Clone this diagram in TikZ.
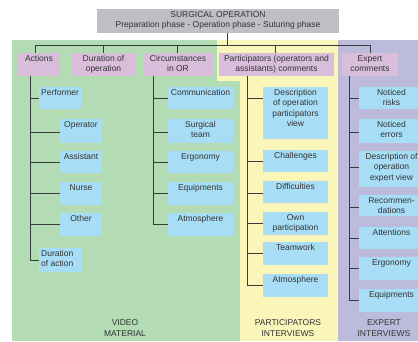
\documentclass[tikz,border=0pt]{standalone}
\usepackage{fontspec}
\setmainfont{Liberation Sans}
\definecolor{bgG}{HTML}{B3DBB4}
\definecolor{bgY}{HTML}{FAF6B9}
\definecolor{bgP}{HTML}{BDBBDC}
\definecolor{pinkc}{HTML}{D9BEDC}
\definecolor{bluec}{HTML}{A8DDF6}
\definecolor{grayc}{HTML}{BEBEC4}
\definecolor{txtc}{HTML}{333333}
\definecolor{linec}{HTML}{3A3A3A}
\newcommand\mybox[7]{%
  \node[#1, anchor=north west, minimum width={#5-#3}, minimum height={#6-#4}] (#2) at (#3,#4) {};
  \node[txt, anchor=north] (#2-t) at (#2.north) {#7};}
\newcommand\myboxl[7]{%
  \node[#1, anchor=north west, minimum width={#5-#3}, minimum height={#6-#4}] (#2) at (#3,#4) {};
  \node[txt, anchor=north west, align=left, inner xsep=2pt] (#2-t) at (#2.north west) {#7};}
\begin{document}
\begin{tikzpicture}[x=1pt,y=-1pt,
  txt/.style={font=\fontsize{8.5}{10.4}\selectfont, text=txtc, inner xsep=1pt, inner ysep=2pt, align=center},
  bluebox/.style={fill=bluec, draw=none, inner sep=0pt, outer sep=0pt},
  pinkbox/.style={fill=pinkc, draw=none, inner sep=0pt, outer sep=0pt},
  graybox/.style={fill=grayc, draw=none, inner sep=0pt, outer sep=0pt},
  ln/.style={draw=linec, line width=0.8pt},
  foot/.style={font=\fontsize{8.5}{10.4}\selectfont, text=txtc, align=center, inner sep=0pt}]
\useasboundingbox (0,0) rectangle (418,341);
% backgrounds
\fill[bgG] (12,40) -- (217,40) -- (217,81) -- (240,81) -- (240,341) -- (12,341) -- cycle;
\fill[bgY] (217,40) -- (338,40) -- (338,341) -- (240,341) -- (240,81) -- (217,81) -- cycle;
\fill[bgP] (338,40) rectangle (418,341);
% title
\mybox{graybox}{title}{97}{9}{339}{33}{SURGICAL OPERATION\\Preparation phase - Operation phase - Suturing phase}
% headers
\mybox{pinkbox}{actions}{18}{53}{60}{76}{Actions}
\mybox{pinkbox}{durop}{72}{53}{135}{76}{Duration of\\operation}
\mybox{pinkbox}{circ}{143}{53}{213}{76}{Circumstances\\in OR}
\mybox{pinkbox}{partic}{219}{53}{334}{76}{Participators (operators and\\assistants) comments}
\mybox{pinkbox}{expert}{342}{53}{398}{76}{Expert\\comments}
% actions column
\myboxl{bluebox}{performer}{39}{87}{81}{109}{Performer}
\mybox{bluebox}{operator}{60}{119}{102}{143}{Operator}
\mybox{bluebox}{assistant}{60}{151}{102}{173}{Assistant}
\mybox{bluebox}{nurse}{60}{182}{102}{205}{Nurse}
\mybox{bluebox}{other}{60}{213}{102}{236}{Other}
\myboxl{bluebox}{duraction}{39}{248}{81}{272}{Duration\\of action}
% circumstances column
\mybox{bluebox}{communication}{168}{87}{233}{109}{Communication}
\mybox{bluebox}{surgteam}{168}{119}{233}{143}{Surgical\\team}
\mybox{bluebox}{ergoA}{168}{151}{233}{173}{Ergonomy}
\mybox{bluebox}{equipA}{168}{182}{233}{205}{Equipments}
\mybox{bluebox}{atmoA}{168}{213}{233}{236}{Atmosphere}
% participators column
\mybox{bluebox}{descA}{263}{87}{328}{139}{Description\\of operation\\participators\\view}
\mybox{bluebox}{challenges}{263}{150}{328}{172}{Challenges}
\mybox{bluebox}{difficulties}{263}{181}{328}{203}{Difficulties}
\mybox{bluebox}{ownpart}{263}{212}{328}{235}{Own\\participation}
\mybox{bluebox}{teamwork}{263}{242}{328}{265}{Teamwork}
\mybox{bluebox}{atmoB}{263}{274}{328}{297}{Atmosphere}
% expert column
\mybox{bluebox}{risks}{359}{87}{424}{109}{Noticed\\risks}
\mybox{bluebox}{errors}{359}{119}{424}{143}{Noticed\\errors}
\mybox{bluebox}{descB}{359}{151}{424}{187}{Description of\\operation\\expert view}
\mybox{bluebox}{recomm}{359}{195}{424}{216}{Recommen-\\dations}
\mybox{bluebox}{attentions}{359}{227}{424}{249}{Attentions}
\mybox{bluebox}{ergoB}{359}{257}{424}{280}{Ergonomy}
\mybox{bluebox}{equipB}{359}{289}{424}{312}{Equipments}
% footers
\node[foot] (fvideo) at (125,328) {VIDEO\\MATERIAL};
\node[foot] (fpart) at (288,328) {PARTICIPATORS\\INTERVIEWS};
\node[foot] (fexp) at (384,328) {EXPERT\\INTERVIEWS};
% connectors: top
\draw[ln] (title.south -| 227,0) -- (227,45);
\draw[ln] (actions.north -| 35,0) -- (35,45) -- (370,45) -- (expert.north -| 370,0);
\draw[ln] (103,45) -- (durop.north -| 103,0);
\draw[ln] (177,45) -- (circ.north -| 177,0);
\draw[ln] (275,45) -- (partic.north -| 275,0);
% actions trunk
\draw[ln] (actions.south -| 30,0) |- (duraction.west);
\foreach \n in {performer,assistant,nurse,other}
  \draw[ln] (30,0 |- \n.west) -- (\n.west);
\draw[ln] (30,132) -- (operator.west |- 0,132);
% circumstances trunk
\draw[ln] (circ.south -| 153,0) |- (atmoA.west);
\foreach \n in {communication,ergoA,equipA}
  \draw[ln] (153,0 |- \n.west) -- (\n.west);
\draw[ln] (153,132) -- (surgteam.west |- 0,132);
% participators trunk
\draw[ln] (partic.south -| 247,0) |- (atmoB.west);
\foreach \n in {challenges,ownpart,teamwork}
  \draw[ln] (247,0 |- \n.west) -- (\n.west);
\draw[ln] (247,98) -- (descA.west |- 0,98);
\draw[ln] (247,193) -- (difficulties.west |- 0,193);
% expert trunk
\draw[ln] (expert.south -| 349,0) |- (equipB.west);
\foreach \n in {risks,attentions,ergoB}
  \draw[ln] (349,0 |- \n.west) -- (\n.west);
\draw[ln] (349,132) -- (errors.west |- 0,132);
\draw[ln] (349,167) -- (descB.west |- 0,167);
\draw[ln] (349,207) -- (recomm.west |- 0,207);
\end{tikzpicture}
\end{document}
